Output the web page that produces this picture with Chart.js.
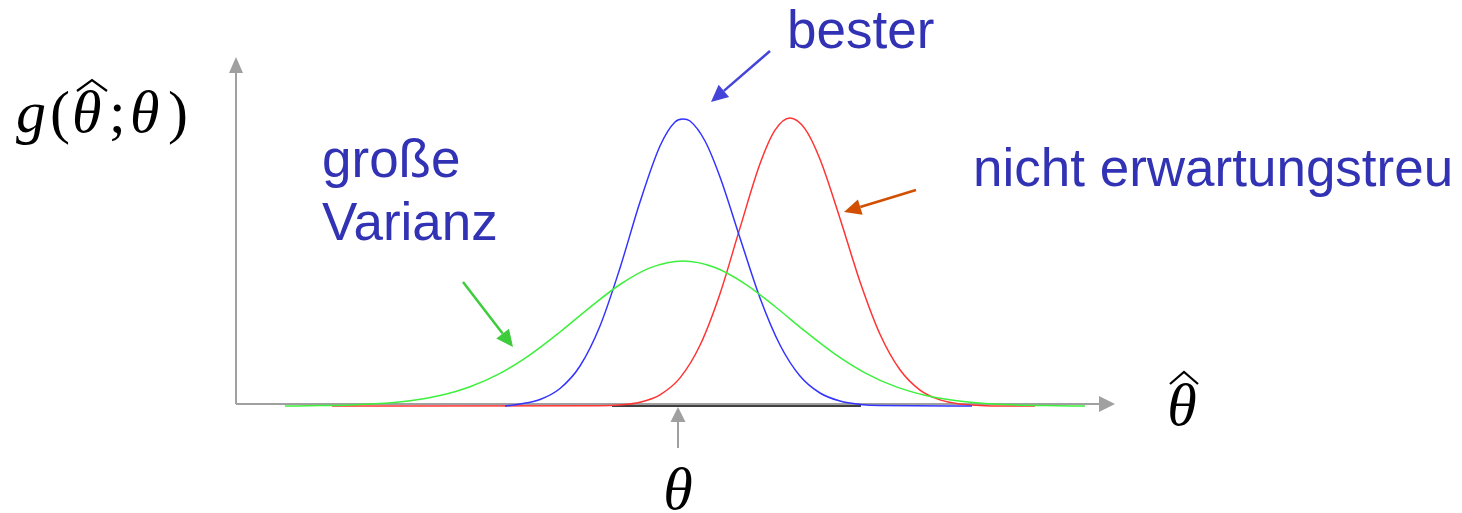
<!DOCTYPE html>
<html>
<head>
<meta charset="utf-8">
<script src="https://cdn.jsdelivr.net/npm/chart.js@4/dist/chart.umd.min.js"></script>
<style>
  html, body { margin: 0; padding: 0; background: #fff; }
  #wrap { position: relative; width: 1462px; height: 513px; }
</style>
</head>
<body>
<div id="wrap"><canvas id="c"></canvas></div>
<script>
const greenX = [-3.95, -3.60, -3.30, -3.00, -2.70, -2.40, -2.10, -1.80, -1.50, -1.20, -0.90, -0.60, -0.30, 0.03,
  0.35, 0.65, 0.95, 1.25, 1.55, 1.85, 2.15, 2.45, 2.75, 3.05, 3.35, 3.65, 4.05];
const greenY = [0, 0.004, 0.010, 0.024, 0.053, 0.105, 0.193, 0.327, 0.512, 0.740, 0.987, 1.215, 1.381, 1.450,
  1.385, 1.222, 0.995, 0.748, 0.519, 0.332, 0.196, 0.107, 0.054, 0.025, 0.011, 0.004, 0];

const blueX = [-1.75, -1.60, -1.40, -1.20, -1.00, -0.80, -0.60, -0.40, -0.20, -0.05, 0.03, 0.10, 0.25, 0.40,
  0.60, 0.80, 1.00, 1.20, 1.40, 1.60, 1.80, 2.00, 2.92];
const blueY = [0, 0.020, 0.065, 0.175, 0.400, 0.800, 1.380, 2.040, 2.600, 2.840, 2.870, 2.850, 2.650, 2.290,
  1.680, 1.080, 0.610, 0.300, 0.130, 0.050, 0.016, 0.004, 0];

const redX = [-3.48, -0.80, -0.60, -0.40, -0.20, 0, 0.20, 0.40, 0.60, 0.80, 0.95, 1.10, 1.25, 1.40,
  1.60, 1.80, 2.00, 2.20, 2.40, 2.60, 2.80, 3.00, 3.20, 3.55];
const redY = [0, 0.003, 0.011, 0.038, 0.112, 0.281, 0.607, 1.123, 1.781, 2.422, 2.758, 2.880, 2.771, 2.468,
  1.876, 1.243, 0.718, 0.362, 0.159, 0.061, 0.020, 0.006, 0, 0];

// black piece of the baseline under the three curves
const baseX = [-0.68, 1.81];
const baseY = [0, 0];

const toPoints = (xs, ys) => xs.map((x, i) => ({ x, y: ys[i] }));

const TEXT_BLUE = '#3232b4';
const SERIF_I = 'italic 60px "Liberation Serif", "Times New Roman", serif';
const SERIF = '60px "Liberation Serif", "Times New Roman", serif';

// annotations: [text, x, y]
const labels = [
  ['bester', 1.07, 3.58],
  ['nicht erwartungstreu', 2.93, 2.20],
  ['große', -3.58, 2.29],
  ['Varianz', -3.58, 1.66],
];
// pointer arrows: [x1, y1, x2 (tip), y2 (tip), colour]
const pointers = [
  [0.90, 3.55, 0.31, 3.04, '#4444d8'],
  [2.36, 2.16, 1.64, 1.94, '#d24f00'],
  [-2.17, 1.24, -1.67, 0.59, '#3ccc3c'],
];

function arrow(ctx, x1, y1, x2, y2, color, lw, len, half) {
  const a = Math.atan2(y2 - y1, x2 - x1);
  const bx = x2 - Math.cos(a) * len, by = y2 - Math.sin(a) * len;
  ctx.save();
  ctx.strokeStyle = color;
  ctx.fillStyle = color;
  ctx.lineWidth = lw;
  ctx.beginPath();
  ctx.moveTo(x1, y1);
  ctx.lineTo(bx, by);
  ctx.stroke();
  ctx.beginPath();
  ctx.moveTo(x2, y2);
  ctx.lineTo(bx + Math.sin(a) * half, by - Math.cos(a) * half);
  ctx.lineTo(bx - Math.sin(a) * half, by + Math.cos(a) * half);
  ctx.closePath();
  ctx.fill();
  ctx.restore();
}

// wide hat accent above a glyph
function hat(ctx, x0, x1, yTop, yBot) {
  ctx.save();
  ctx.strokeStyle = '#000';
  ctx.lineWidth = 2.2;
  ctx.lineJoin = 'miter';
  ctx.beginPath();
  ctx.moveTo(x0, yBot);
  ctx.lineTo((x0 + x1) / 2, yTop);
  ctx.lineTo(x1, yBot);
  ctx.stroke();
  ctx.restore();
}

// draws glyph runs one after another: [text, font, x]
function mathRun(ctx, parts, baseline) {
  for (const [t, f, gx] of parts) {
    ctx.font = f;
    ctx.fillText(t, gx, baseline);
  }
}

const axesPlugin = {
  id: 'axes',
  beforeDatasetsDraw(chart) {
    const { ctx, scales: { x, y } } = chart;
    const ox = x.getPixelForValue(-4.44), oy = y.getPixelForValue(0.02);
    arrow(ctx, ox, oy, ox, y.getPixelForValue(3.49), '#a0a0a0', 2, 16, 7);
    arrow(ctx, ox, oy, x.getPixelForValue(4.35), oy, '#a0a0a0', 2, 16, 8);
  },
  afterDatasetsDraw(chart) {
    const { ctx, scales: { x, y } } = chart;
    // θ marker under the axis
    arrow(ctx, x.getPixelForValue(-0.02), y.getPixelForValue(-0.42),
      x.getPixelForValue(-0.02), y.getPixelForValue(-0.01), '#a0a0a0', 2, 15, 7.5);

    for (const [x1, y1, x2, y2, c] of pointers) {
      arrow(ctx, x.getPixelForValue(x1), y.getPixelForValue(y1),
        x.getPixelForValue(x2), y.getPixelForValue(y2), c, 2.5, 17, 8);
    }

    ctx.save();
    ctx.fillStyle = TEXT_BLUE;
    ctx.font = '53px "Liberation Sans", Arial, sans-serif';
    ctx.textBaseline = 'alphabetic';
    ctx.textAlign = 'left';
    for (const [t, lx, ly] of labels) {
      ctx.fillText(t, x.getPixelForValue(lx), y.getPixelForValue(ly));
    }

    // y label  g(θ̂; θ)
    ctx.fillStyle = '#000';
    mathRun(ctx, [
      ['g', SERIF_I, 16],
      ['(', SERIF, 50],
      ['θ', SERIF_I, 72],
      [';', SERIF, 109],
      ['θ', SERIF_I, 130],
      [')', SERIF, 168],
    ], 132);
    hat(ctx, 77, 107, 80, 91);

    // θ under the axis
    ctx.textAlign = 'center';
    ctx.font = SERIF_I;
    ctx.fillText('θ', x.getPixelForValue(-0.02), 509);

    // x label θ̂
    ctx.fillText('θ', 1182, 425);
    hat(ctx, 1170, 1198, 372, 384);
    ctx.restore();
  }
};

const line = (data, color, w) => ({
  data, borderColor: color, borderWidth: w, showLine: true, fill: false,
  pointRadius: 0, cubicInterpolationMode: 'monotone',
});

new Chart(document.getElementById('c'), {
  type: 'scatter',
  data: {
    datasets: [
      line(toPoints(greenX, greenY), '#3cf03c', 1.5),
      line(toPoints(blueX, blueY), '#3434ff', 1.5),
      line(toPoints(redX, redY), '#ff3434', 1.5),
      line(toPoints(baseX, baseY), '#000000', 1.5),
    ],
  },
  options: {
    responsive: true,
    maintainAspectRatio: false,
    animation: false,
    layout: { padding: 0 },
    plugins: { legend: { display: false }, tooltip: { enabled: false } },
    scales: {
      x: { type: 'linear', display: false, min: -6.80, max: 7.82 },
      y: { type: 'linear', display: false, min: -1.07, max: 4.06 },
    },
  },
  plugins: [axesPlugin],
});
</script>
</body>
</html>
